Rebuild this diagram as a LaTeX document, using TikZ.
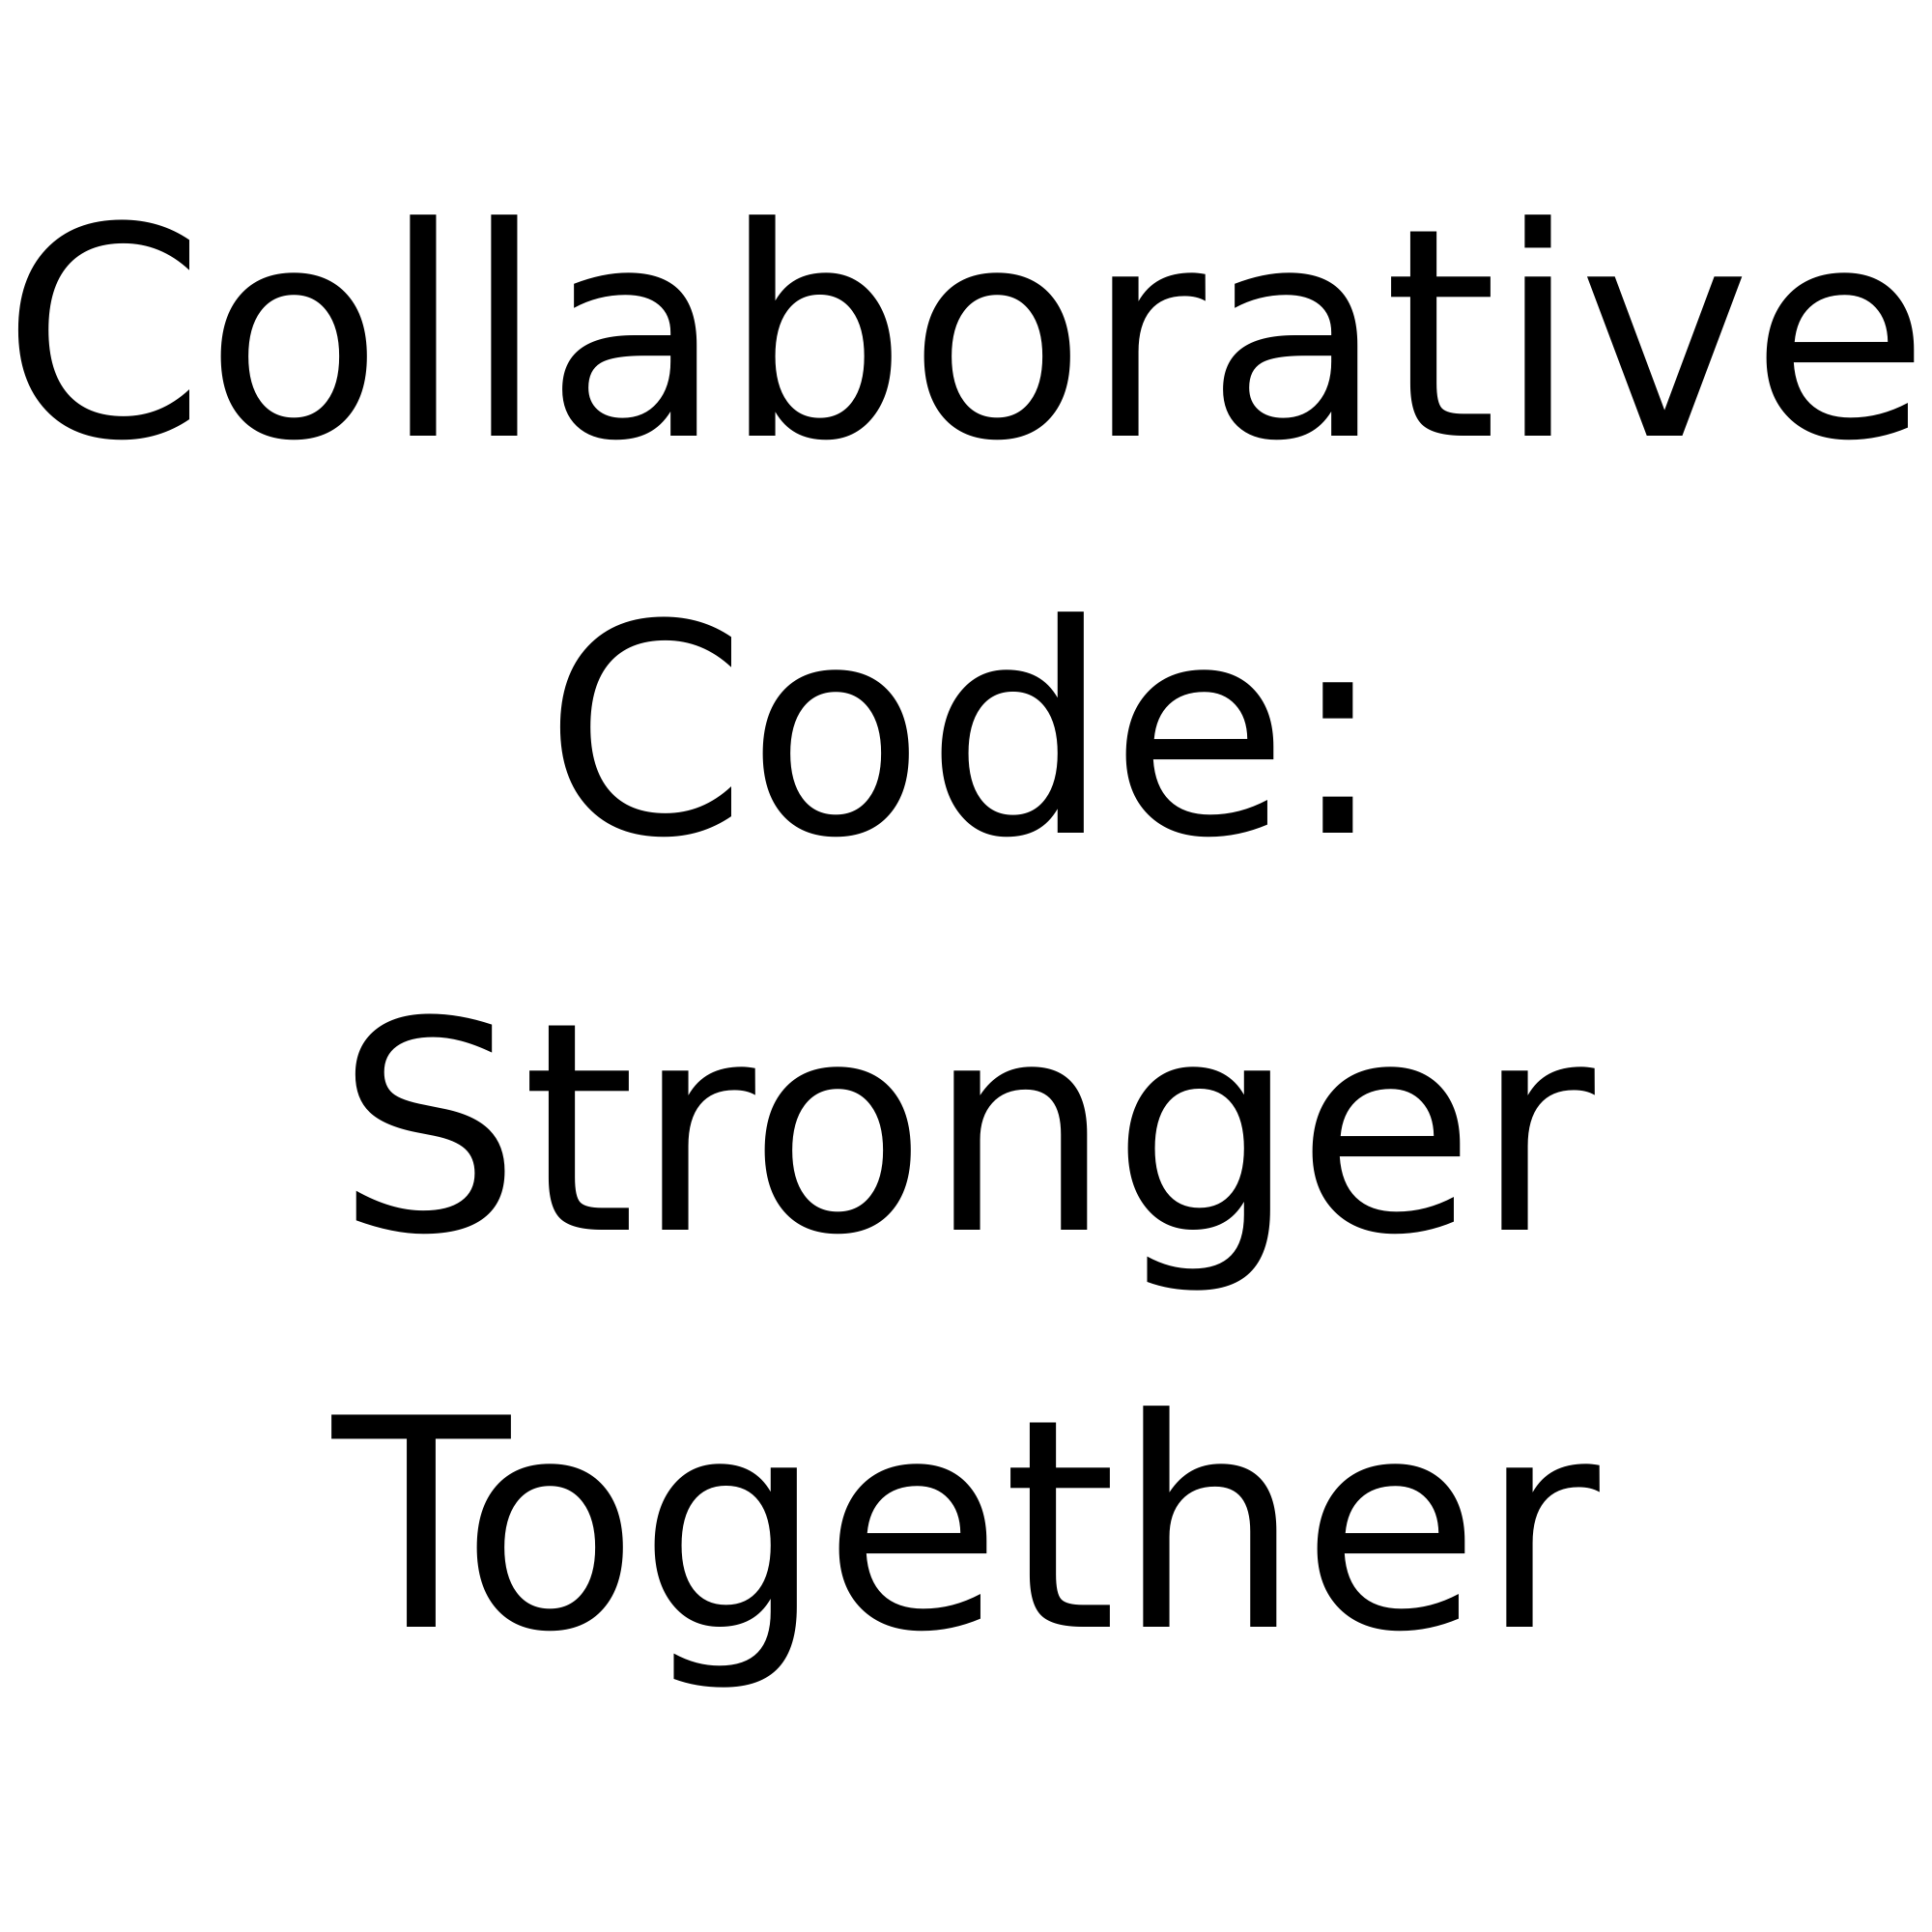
\documentclass[tikz,border=0pt]{standalone}
\usepackage{fontspec}
\setmainfont{DejaVu Sans}
\usepackage{tikz}
\usetikzlibrary{positioning}
\tikzstyle{titleline} = [font=\fontsize{85.7}{117}\selectfont, anchor=base, inner sep=0pt, text=black]

\begin{document}
\begin{tikzpicture}

\useasboundingbox[fill=white] (0,0) rectangle (20,20);

\node[titleline] (collab) at (10,15.48) {Collaborative};
\node[titleline] (code) at (10,11.37) {Code:};
\node[titleline] (stronger) at (10,7.26) {Stronger};
\node[titleline] (together) at (10,3.15) {Together};

\end{tikzpicture}
\end{document}
